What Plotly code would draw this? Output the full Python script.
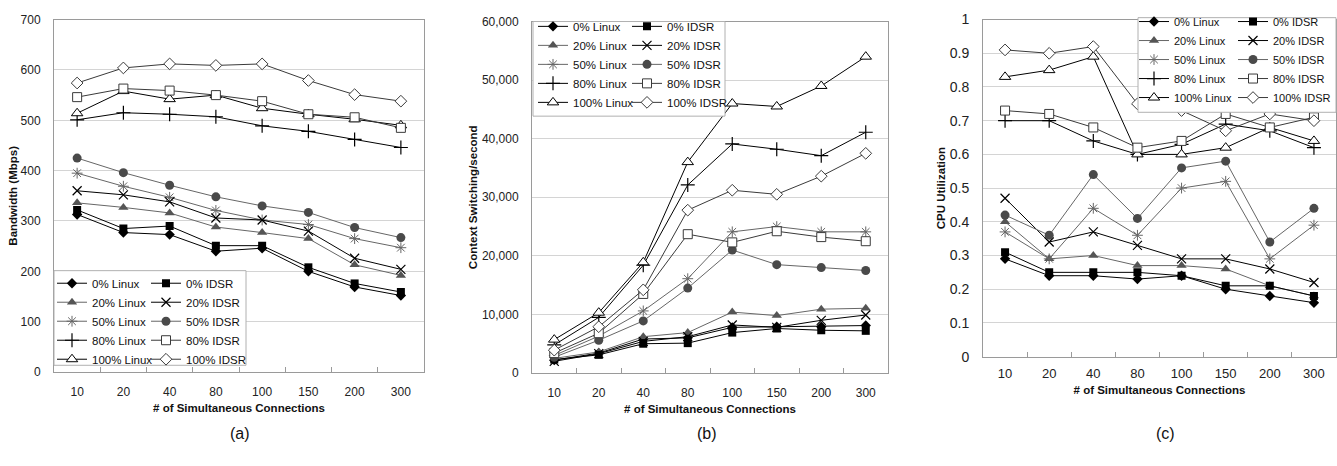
import plotly.graph_objects as go

W, H = 1337, 466

connections = ["10", "20", "40", "80", "100", "150", "200", "300"]
series_names = ["0% Linux", "20% Linux", "50% Linux", "80% Linux", "100% Linux",
                "0% IDSR", "20% IDSR", "50% IDSR", "80% IDSR", "100% IDSR"]

# (a) Bandwidth (Mbps)
bw_0_linux = [313, 277, 273, 240, 246, 200, 169, 152]
bw_20_linux = [336, 327, 316, 288, 277, 265, 213, 192]
bw_50_linux = [395, 369, 347, 321, 302, 293, 265, 247]
bw_80_linux = [501, 515, 512, 507, 489, 478, 462, 446]
bw_100_linux = [514, 558, 542, 550, 524, 512, 502, 490]
bw_0_idsr = [322, 285, 290, 251, 251, 208, 176, 159]
bw_20_idsr = [360, 352, 338, 306, 302, 280, 226, 204]
bw_50_idsr = [425, 396, 371, 348, 330, 317, 287, 267]
bw_80_idsr = [546, 563, 559, 550, 538, 512, 506, 485]
bw_100_idsr = [574, 604, 612, 609, 612, 579, 551, 538]

# (b) Context Switching/second
cs_0_linux = [2200, 3400, 5800, 6000, 7800, 7900, 7900, 8100]
cs_20_linux = [2500, 3600, 6200, 6900, 10400, 9800, 10900, 11050]
cs_50_linux = [3000, 6300, 10600, 16100, 24100, 25000, 24100, 24100]
cs_80_linux = [4800, 9500, 18400, 32100, 39100, 38200, 37100, 41100]
cs_100_linux = [5700, 10300, 18900, 36000, 46000, 45500, 49000, 54000]
cs_0_idsr = [2300, 3100, 5000, 5100, 6900, 7600, 7300, 7200]
cs_20_idsr = [2000, 3300, 5400, 6200, 8200, 7800, 9000, 9900]
cs_50_idsr = [2700, 5600, 8900, 14500, 21000, 18500, 18000, 17500]
cs_80_idsr = [3400, 6800, 13500, 23700, 22300, 24200, 23200, 22500]
cs_100_idsr = [3900, 7900, 14200, 27800, 31200, 30500, 33600, 37500]

# (c) CPU Utilization
cpu_0_linux = [0.29, 0.24, 0.24, 0.23, 0.24, 0.20, 0.18, 0.16]
cpu_20_linux = [0.40, 0.29, 0.30, 0.27, 0.27, 0.26, 0.21, 0.18]
cpu_50_linux = [0.37, 0.29, 0.44, 0.36, 0.50, 0.52, 0.29, 0.39]
cpu_80_linux = [0.70, 0.70, 0.64, 0.60, 0.63, 0.69, 0.67, 0.62]
cpu_100_linux = [0.83, 0.85, 0.89, 0.60, 0.60, 0.62, 0.68, 0.64]
cpu_0_idsr = [0.31, 0.25, 0.25, 0.25, 0.24, 0.21, 0.21, 0.18]
cpu_20_idsr = [0.47, 0.34, 0.37, 0.33, 0.29, 0.29, 0.26, 0.22]
cpu_50_idsr = [0.42, 0.36, 0.54, 0.41, 0.56, 0.58, 0.34, 0.44]
cpu_80_idsr = [0.73, 0.72, 0.68, 0.62, 0.64, 0.72, 0.68, 0.71]
cpu_100_idsr = [0.91, 0.90, 0.92, 0.75, 0.73, 0.67, 0.72, 0.70]

bw_series = [bw_0_linux, bw_20_linux, bw_50_linux, bw_80_linux, bw_100_linux,
             bw_0_idsr, bw_20_idsr, bw_50_idsr, bw_80_idsr, bw_100_idsr]
cs_series = [cs_0_linux, cs_20_linux, cs_50_linux, cs_80_linux, cs_100_linux,
             cs_0_idsr, cs_20_idsr, cs_50_idsr, cs_80_idsr, cs_100_idsr]
cpu_series = [cpu_0_linux, cpu_20_linux, cpu_50_linux, cpu_80_linux, cpu_100_linux,
              cpu_0_idsr, cpu_20_idsr, cpu_50_idsr, cpu_80_idsr, cpu_100_idsr]

BLACK = "#000000"
GRAY = "#666666"
DGRAY = "#3a3a3a"
# style per series: (symbol, fill colour, outline colour, outline width, line colour, size)
styles = {
    "0% Linux": ("diamond", BLACK, BLACK, 0, BLACK, 8),
    "20% Linux": ("triangle-up", "#555555", "#555555", 0, GRAY, 9),
    "50% Linux": ("asterisk-open", GRAY, GRAY, 1, GRAY, 9),
    "80% Linux": ("cross-thin-open", BLACK, BLACK, 1.2, BLACK, 10),
    "100% Linux": ("triangle-up", "white", BLACK, 1, BLACK, 10),
    "0% IDSR": ("square", BLACK, BLACK, 0, BLACK, 8),
    "20% IDSR": ("x-thin-open", BLACK, BLACK, 1.2, BLACK, 9),
    "50% IDSR": ("circle", "#4a4a4a", "#4a4a4a", 0, GRAY, 9),
    "80% IDSR": ("square", "white", DGRAY, 1, DGRAY, 9),
    "100% IDSR": ("diamond", "white", DGRAY, 1, DGRAY, 9),
}

FONT = "Liberation Sans, Arial, sans-serif"

fig = go.Figure()

panels = [
    dict(series=bw_series, xa="x", ya="y", legs=("legend", "legend2")),
    dict(series=cs_series, xa="x2", ya="y2", legs=("legend3", "legend4")),
    dict(series=cpu_series, xa="x3", ya="y3", legs=("legend5", "legend6")),
]

for p in panels:
    for i, (name, vals) in enumerate(zip(series_names, p["series"])):
        sym, fill, outl, ow, lc, sz = styles[name]
        if sym.endswith("-open"):
            marker = dict(symbol=sym, size=sz, color=outl, line=dict(color=outl, width=ow))
        else:
            marker = dict(symbol=sym, size=sz, color=fill, line=dict(color=outl, width=ow))
        fig.add_trace(go.Scatter(
            x=connections, y=vals, name=name, mode="lines+markers",
            line=dict(color=lc, width=1), marker=marker,
            xaxis=p["xa"], yaxis=p["ya"],
            legend=p["legs"][0] if i < 5 else p["legs"][1],
        ))

def px(x):
    return x / W

def py(y):
    return 1 - y / H

grid = "#d4d4d4"
frame = "#9a9a9a"

def xaxis_cfg(domain, anchor, font_size, standoff_lbl, title_standoff):
    return dict(
        domain=domain, anchor=anchor, type="category", range=[-0.5, 7.5],
        showline=True, mirror=True, linecolor=frame, linewidth=1,
        ticks="inside", tickson="boundaries", ticklen=5, tickcolor=frame,
        tickfont=dict(family=FONT, size=font_size, color="#222"),
        ticklabelstandoff=standoff_lbl,
        title=dict(text="# of Simultaneous Connections",
                   font=dict(family=FONT, size=11.5, color="#111", weight="bold"),
                   standoff=title_standoff),
        showgrid=False, zeroline=False, fixedrange=True,
    )

def yaxis_cfg(domain, anchor, rng, dtick, title, font_size, tickformat=None, standoff_lbl=8, title_standoff=8):
    d = dict(
        domain=domain, anchor=anchor, range=rng, dtick=dtick, tick0=0,
        showline=True, mirror=True, linecolor=frame, linewidth=1,
        showgrid=True, gridcolor=grid, gridwidth=1, zeroline=False,
        ticks="", tickfont=dict(family=FONT, size=font_size, color="#222"),
        ticklabelstandoff=standoff_lbl,
        title=dict(text=title, font=dict(family=FONT, size=11.5, color="#111", weight="bold"),
                   standoff=title_standoff),
        fixedrange=True,
    )
    if tickformat:
        d["tickformat"] = tickformat
    return d

leg_common = dict(bgcolor="rgba(0,0,0,0)", borderwidth=0, orientation="v",
                  xanchor="left", yanchor="top", tracegroupgap=0,
                  font=dict(family=FONT, size=11.5, color="#111"))

fig.update_layout(
    width=W, height=H, margin=dict(l=0, r=0, t=0, b=0),
    paper_bgcolor="white", plot_bgcolor="white",
    showlegend=True,
    xaxis=xaxis_cfg([px(54), px(424)], "y", 12, 9, 5),
    yaxis=yaxis_cfg([py(377), py(12)], "x", [0, 700], 100, "Bandwidth (Mbps)", 12,
                    standoff_lbl=10, title_standoff=0),
    xaxis2=xaxis_cfg([px(532), px(888)], "y2", 12, 9, 5),
    yaxis2=yaxis_cfg([py(378), py(14)], "x2", [0, 60000], 10000, "Context Switching/second", 12,
                     tickformat=",", standoff_lbl=10, title_standoff=1),
    xaxis3=xaxis_cfg([px(983), px(1336)], "y3", 13, 5, 5),
    yaxis3=yaxis_cfg([py(361), py(12)], "x3", [0, 1], 0.1, "CPU Utilization", 14,
                     standoff_lbl=10, title_standoff=1),
    legend=dict(leg_common, x=px(52), y=py(270)),
    legend2=dict(leg_common, x=px(146), y=py(270)),
    legend3=dict(leg_common, x=px(533), y=py(4)),
    legend4=dict(leg_common, x=px(627), y=py(4)),
    legend5=dict(leg_common, x=px(1134), y=py(-1), font=dict(family=FONT, size=11, color="#111")),
    legend6=dict(leg_common, x=px(1233), y=py(-1), font=dict(family=FONT, size=11, color="#111")),
)

# white legend boxes (drawn above the traces, below the legends)
for (x0, y0, x1, y1) in [(54, 272, 246, 370), (533, 14, 725, 112), (1138, 10, 1336, 108)]:
    fig.add_shape(type="rect", xref="paper", yref="paper",
                  x0=px(x0), x1=px(x1), y0=py(y1), y1=py(y0),
                  fillcolor="white", line=dict(color="#b0b0b0", width=1), layer="above")

for lbl, xc in [("(a)", 240), ("(b)", 707), ("(c)", 1165)]:
    fig.add_annotation(text=lbl, xref="paper", yref="paper", x=px(xc), y=py(441),
                       showarrow=False, font=dict(family=FONT, size=16, color="#111"),
                       xanchor="center", yanchor="middle")

fig.write_html("out.html")
